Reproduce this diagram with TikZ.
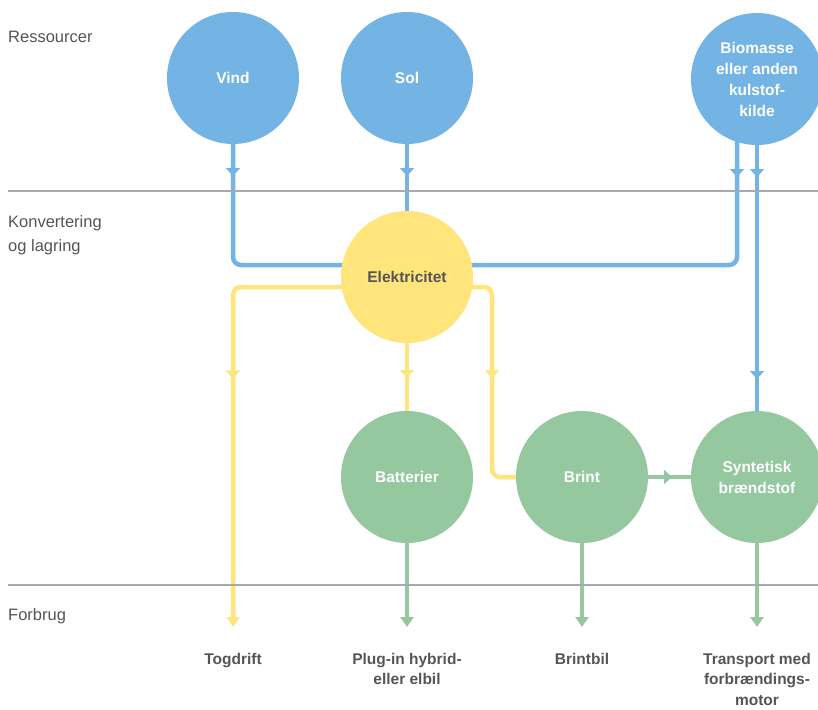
\documentclass[tikz,border=0pt]{standalone}
\usepackage{fontspec}
\setmainfont{Liberation Sans}
\usetikzlibrary{arrows.meta,decorations.markings,calc}
\pgfdeclarelayer{bg}
\pgfsetlayers{bg,main}
\definecolor{cblue}{HTML}{74B4E4}
\definecolor{cyellow}{HTML}{FFE57C}
\definecolor{cgreen}{HTML}{96C8A0}
\definecolor{ctext}{HTML}{555555}
\definecolor{crule}{HTML}{A9A9B1}
\begin{document}
\begin{tikzpicture}[x=1pt,y=-1pt,
  bubble/.style={circle,minimum size=132pt,inner sep=0pt,text=white,align=center,
    font=\bfseries\fontsize{15.5}{21}\selectfont},
  res/.style={bubble,fill=cblue},
  conv/.style={bubble,fill=cyellow,text=ctext},
  stor/.style={bubble,fill=cgreen},
  side/.style={anchor=base west,text=ctext,font=\fontsize{16.5}{24}\selectfont,inner sep=0pt},
  use/.style={anchor=north,align=center,text=ctext,inner sep=0pt,
    font=\bfseries\fontsize{15.5}{20.5}\selectfont},
  sep/.style={draw=crule,line width=1.2pt},
  flow/.style={line width=4.5pt,rounded corners=8pt},
  midarr/.style={postaction={decorate,decoration={markings,
    mark=at position #1 with {\arrow{Triangle[width=14pt,length=8pt]}}}}},
  endarr/.style={-{Triangle[width=13pt,length=10pt]}}]
\useasboundingbox (0,0) rectangle (818,709);

% separators
\draw[sep] (8,191) -- (818,191);
\draw[sep] (8,585) -- (818,585);

% side labels
\node[side] (lres) at (8,43) {Ressourcer};
\node[side] (lkon) at (8,227) {Konvertering};
\node[side] (lkon2) at (8,251) {og lagring};
\node[side] (lfor) at (8,620) {Forbrug};

% nodes
\node[res] (vind) at (233,78) {Vind};
\node[res] (sol) at (407,78) {Sol};
\node[res] (bio) at (757,79) {Biomasse\\eller anden\\kulstof-\\kilde};
\node[conv] (elek) at (407,277) {Elektricitet};
\node[stor] (bat) at (407,477) {Batterier};
\node[stor] (brint) at (582,477) {Brint};
\node[stor] (syn) at (757,477) {Syntetisk\\brændstof};

% end points
\coordinate (e1) at (233,627);
\coordinate (e2) at (407,627);
\coordinate (e3) at (582,627);
\coordinate (e4) at (757,627);

% consumer labels
\node[use] (u1) at (233,653) {Togdrift};
\node[use] (u2) at (407,653) {Plug-in hybrid-\\eller elbil};
\node[use] (u3) at (582,653) {Brintbil};
\node[use] (u4) at (757,653) {Transport med\\forbrændings-\\motor};

\begin{pgfonlayer}{bg}
% blue
\draw[flow,cblue,midarr=98pt] (vind.center) |- ($(elek.center)+(0,-12)$);
\draw[flow,cblue,midarr=98pt] (sol.center) -- (elek.center);
\draw[flow,cblue,midarr=98pt] ($(bio.center)+(-20,0)$) |- ($(elek.center)+(0,-12)$);
\draw[flow,cblue,midarr=98pt,midarr=300pt] (bio.center) -- (syn.center);
% yellow
\draw[flow,cyellow,midarr=262pt,endarr] ($(elek.center)+(0,10)$) -| (e1);
\draw[flow,cyellow,midarr=101pt] (elek.center) -- (bat.center);
\draw[flow,cyellow,midarr=173pt] ($(elek.center)+(0,10)$) -| ($(brint.center)+(-90,0)$) -- (brint.center);
% green
\draw[flow,cgreen,midarr=90pt] (brint.center) -- (syn.center);
\draw[flow,cgreen,endarr] (bat.center) -- (e2);
\draw[flow,cgreen,endarr] (brint.center) -- (e3);
\draw[flow,cgreen,endarr] (syn.center) -- (e4);
\end{pgfonlayer}
\end{tikzpicture}
\end{document}
